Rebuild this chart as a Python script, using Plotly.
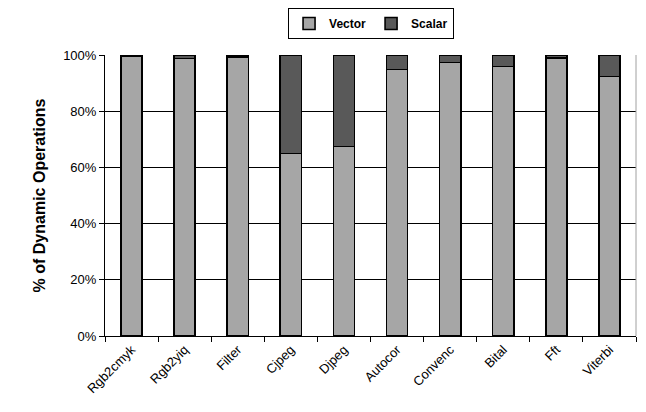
import plotly.graph_objects as go

categories = ["Rgb2cmyk", "Rgb2yiq", "Filter", "Cjpeg", "Djpeg", "Autocor", "Convenc", "Bital", "Fft", "Viterbi"]
vector = [99.6, 98.8, 99.2, 64.9, 67.4, 94.8, 97.3, 95.9, 99.0, 92.3]
scalar = [round(100 - v, 1) for v in vector]

fig = go.Figure()
fig.add_trace(go.Bar(name="Vector", x=categories, y=vector, marker=dict(color="#a6a6a6", line=dict(color="black", width=1.6)), width=0.4))
fig.add_trace(go.Bar(name="Scalar", x=categories, y=scalar, marker=dict(color="#595959", line=dict(color="black", width=1.6)), width=0.4))

fig.update_layout(
    barmode="stack",
    width=646, height=412,
    margin=dict(l=97, r=18, t=47, b=84, autoexpand=False),
    paper_bgcolor="white", plot_bgcolor="white",
    font=dict(family="Liberation Sans, Arial", size=12, color="black"),
    showlegend=True,
    legend=dict(orientation="h", x=0.562, xanchor="center", y=1.0, yanchor="top", yref="container", xref="container",
                bordercolor="black", borderwidth=1, font=dict(size=12, family="Liberation Sans, Arial", color="black", weight="bold"),
                itemwidth=30, traceorder="normal", tracegroupgap=0, entrywidth=0),
    xaxis=dict(tickangle=-45, showline=True, linecolor="black", linewidth=1, ticks="outside", tickson="boundaries",
               ticklen=5, tickcolor="black", showgrid=False, tickfont=dict(size=13), automargin=False),
    yaxis=dict(range=[0, 100], tickvals=[0, 20, 40, 60, 80, 100], ticktext=["0%", "20%", "40%", "60%", "80%", "100%"],
               showline=True, linecolor="black", linewidth=1, ticks="outside", ticklen=5, tickcolor="black",
               showgrid=True, gridcolor="black", gridwidth=1, zeroline=False, automargin=False,
               title=dict(text="<b>% of Dynamic Operations</b>", font=dict(size=16), standoff=13), tickfont=dict(size=13)),
)
fig.add_shape(type="line", xref="paper", yref="paper", x0=1, x1=1, y0=0, y1=1, line=dict(color="#a0a0a0", width=1))
fig.write_html("out.html")
